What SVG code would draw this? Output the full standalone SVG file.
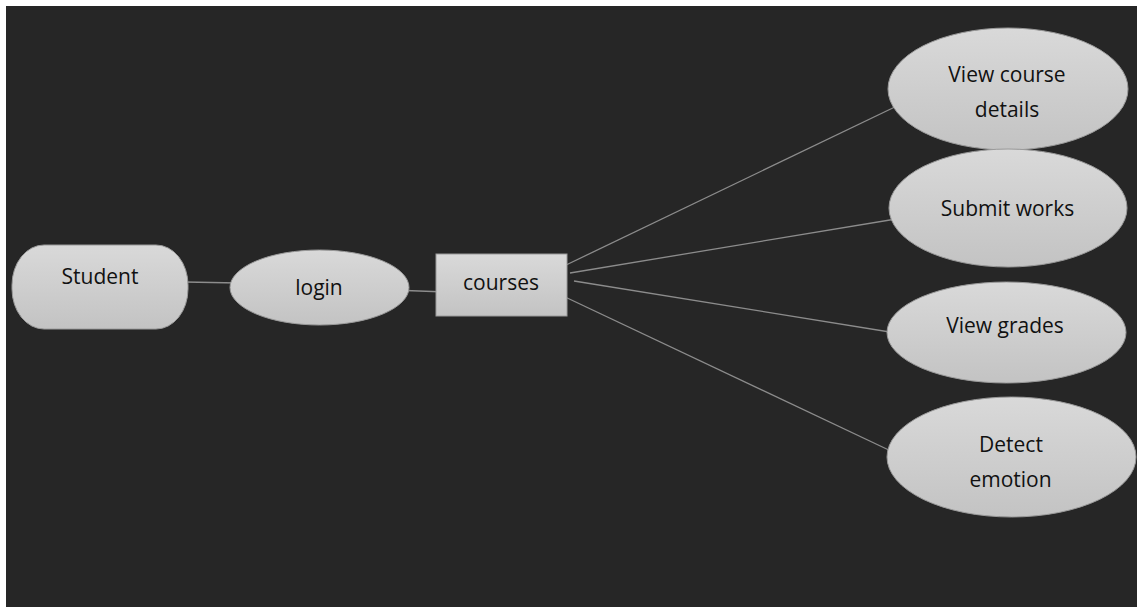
<svg xmlns="http://www.w3.org/2000/svg" width="1137" height="607" viewBox="0 0 1137 607">
  <defs>
    <linearGradient id="g" x1="0" y1="0" x2="0" y2="1">
      <stop offset="0" stop-color="#d9d9d9"/>
      <stop offset="1" stop-color="#c3c3c3"/>
    </linearGradient>
    <style>
      .shape { fill: url(#g); stroke: #9a9a9a; stroke-width: 1; }
      .lbl { font-family: "Open Sans", "Noto Sans", sans-serif; font-size: 21px; fill: #111; text-anchor: middle; }
      .conn line { stroke: #8c8c8c; stroke-width: 1.3; }
    </style>
  </defs>
  <rect x="0" y="0" width="1137" height="607" fill="#ffffff"/>
  <rect x="6" y="6" width="1131" height="601" fill="#262626"/>

  <g id="connectors" class="conn">
    <line x1="185" y1="282" x2="238" y2="283"/>
    <line x1="392" y1="290" x2="446" y2="292"/>
    <line x1="564" y1="266" x2="899" y2="105"/>
    <line x1="570" y1="273" x2="902" y2="218"/>
    <line x1="574" y1="281" x2="896" y2="333"/>
    <line x1="563" y1="296" x2="893" y2="452"/>
  </g>

  <g id="student">
    <rect class="shape" x="12" y="245" width="176" height="84" rx="32" ry="40"/>
    <text class="lbl" x="100" y="284">Student</text>
  </g>
  <g id="login">
    <ellipse class="shape" cx="319.5" cy="287.5" rx="89.5" ry="37.5"/>
    <text class="lbl" x="319" y="295">login</text>
  </g>
  <g id="courses">
    <rect class="shape" x="436" y="254" width="131" height="62"/>
    <text class="lbl" x="501" y="290">courses</text>
  </g>
  <g id="view-course-details">
    <ellipse class="shape" cx="1008" cy="89" rx="120" ry="61"/>
    <text class="lbl" x="1007" y="82">View course</text>
    <text class="lbl" x="1007" y="117">details</text>
  </g>
  <g id="submit-works">
    <ellipse class="shape" cx="1008" cy="208" rx="119" ry="59"/>
    <text class="lbl" x="1007.5" y="216">Submit works</text>
  </g>
  <g id="view-grades">
    <ellipse class="shape" cx="1006.5" cy="332.5" rx="119.5" ry="50.5"/>
    <text class="lbl" x="1005" y="333">View grades</text>
  </g>
  <g id="detect-emotion">
    <ellipse class="shape" cx="1011.5" cy="457" rx="124.5" ry="60"/>
    <text class="lbl" x="1011" y="452">Detect</text>
    <text class="lbl" x="1010.5" y="487">emotion</text>
  </g>
</svg>
